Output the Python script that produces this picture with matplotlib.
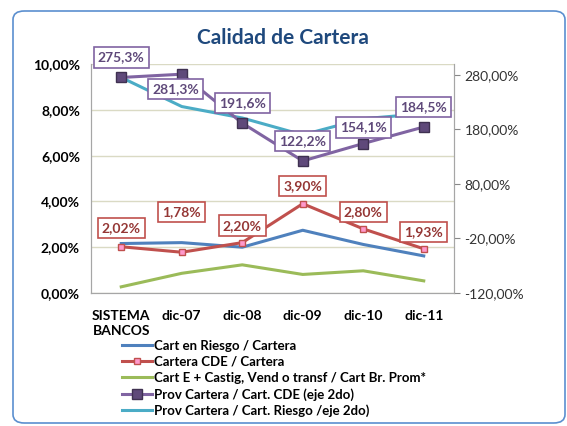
import matplotlib.pyplot as plt
from matplotlib.patches import FancyBboxPatch
from matplotlib.ticker import FuncFormatter

plt.rcParams['font.family'] = ['Lato', 'DejaVu Sans']

categorias = ['SISTEMA\nBANCOS', 'dic-07', 'dic-08', 'dic-09', 'dic-10', 'dic-11']
cart_riesgo = [2.16, 2.20, 2.00, 2.74, 2.12, 1.62]
cartera_cde = [2.02, 1.78, 2.20, 3.90, 2.80, 1.93]
cart_castig = [0.27, 0.86, 1.23, 0.81, 0.97, 0.53]
prov_cde = [275.3, 281.3, 191.6, 122.2, 154.1, 184.5]
prov_riesgo = [275.3, 222.0, 201.0, 170.0, 199.6, 209.0]

# desplazamiento vertical de etiquetas (pixeles aprox.)
off_cde = [19, 40, 17, 18, 17, 17]
off_prov = [20, -15, 20, 20, 16, 20]

def coma(v, dec):
    return (f"{v:.{dec}f}").replace('.', ',') + '%'

fig = plt.figure(figsize=(5.67, 4.26), dpi=100)
borde = FancyBboxPatch((13 / 567, 3 / 426), 552 / 567, 412 / 426,
                       boxstyle='round,pad=0,rounding_size=0.02',
                       transform=fig.transFigure, fc='white', ec='#5B8FCF', lw=1.2,
                       zorder=-5)
fig.patches.append(borde)

ax1 = fig.add_axes([91 / 567, 133 / 426, 363 / 567, 229 / 426])
ax1.patch.set_alpha(0)
ax2 = ax1.twinx()
x = list(range(len(categorias)))

c_azul, c_rojo, c_verde, c_morado, c_cian = '#4F81BD', '#C0504D', '#9BBB59', '#8064A2', '#4BACC6'

l1, = ax1.plot(x, cart_riesgo, color=c_azul, lw=2.2)
l2, = ax1.plot(x, cartera_cde, color=c_rojo, lw=2.2, marker='s', ms=4.5,
               mfc='#FF99CC', mec=c_rojo, mew=1)
l3, = ax1.plot(x, cart_castig, color=c_verde, lw=2.2)
l5, = ax2.plot(x, prov_riesgo, color=c_cian, lw=2.2)
l4, = ax2.plot(x, prov_cde, color=c_morado, lw=2.2, marker='s', ms=7,
               mfc='#5F497A', mec='#3F3151', mew=1)

ax1.set_xlim(-0.5, 5.5)
ax1.set_ylim(0, 10)
ax1.set_yticks([0, 2, 4, 6, 8, 10])
ax1.yaxis.set_major_formatter(FuncFormatter(lambda v, p: coma(v, 2)))
ax2.set_ylim(-120, 300)
ax2.set_yticks([-120, -20, 80, 180, 280])
ax2.yaxis.set_major_formatter(FuncFormatter(lambda v, p: coma(v, 2)))

ax1.set_xticks(x)
ax1.set_xticklabels(categorias, fontweight='bold', fontsize=10, linespacing=1.3,
                    ha='center', va='top')
ax1.tick_params(axis='x', length=0, pad=12)
ax1.tick_params(axis='y', length=0, pad=8, labelsize=10)
for t in ax1.get_yticklabels():
    t.set_fontweight('bold')
ax2.tick_params(axis='y', length=4, color='#888888', labelsize=10, labelcolor='#333333')

ax1.grid(axis='y', color='#DADAC4', lw=1)
ax1.set_axisbelow(True)
for a in (ax1, ax2):
    a.spines['top'].set_visible(False)
    for s in ('left', 'right', 'bottom'):
        a.spines[s].set_color('#A6A6A6')

for i, v in enumerate(cartera_cde):
    ax1.annotate(coma(v, 2), (i, v), xytext=(0, off_cde[i]), textcoords='offset pixels',
                 ha='center', va='center', fontsize=10, fontweight='bold', color='#953735',
                 bbox=dict(boxstyle='square,pad=0.3', fc='white', ec=c_rojo, lw=1.2))
for i, v in enumerate(prov_cde):
    ax2.annotate(coma(v, 1), (i, v), xytext=(0 if i != 1 else -6, off_prov[i]),
                 textcoords='offset pixels', ha='center', va='center', fontsize=10,
                 fontweight='bold', color='#5F497A',
                 bbox=dict(boxstyle='square,pad=0.3', fc='white', ec=c_morado, lw=1.2))

fig.text(283 / 567, 1 - 38 / 426, 'Calidad de Cartera', ha='center', va='center',
         fontsize=15, fontweight='bold', color='#1F497D')

leg = fig.legend([l1, l2, l3, l4, l5],
                 ['Cart en Riesgo / Cartera', 'Cartera CDE / Cartera',
                  'Cart E + Castig, Vend o transf / Cart Br. Prom*',
                  'Prov Cartera / Cart. CDE (eje 2do)',
                  'Prov Cartera / Cart. Riesgo /eje 2do)'],
                 loc='upper left', bbox_to_anchor=(122 / 567, 1 - 340 / 426),
                 frameon=False, fontsize=9.5, handlelength=2.3, handletextpad=0.1,
                 labelspacing=0.3, borderaxespad=0, borderpad=0)
for t in leg.get_texts():
    t.set_fontweight('bold')

fig.savefig('out.png', dpi=100)
